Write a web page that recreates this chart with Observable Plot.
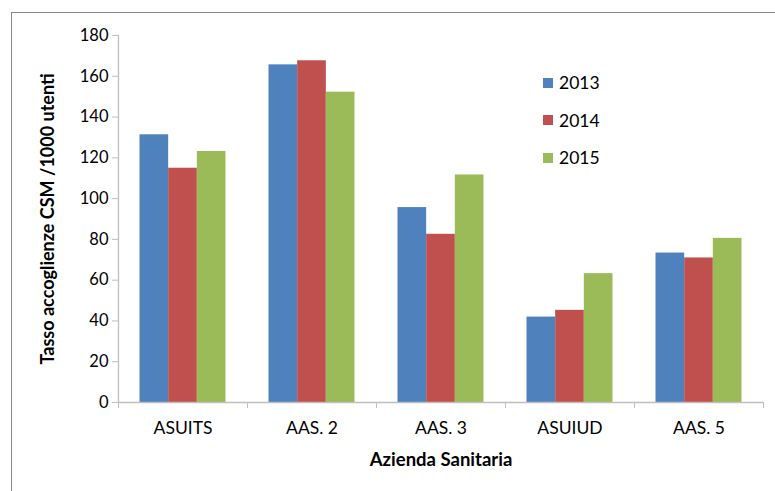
<!DOCTYPE html>
<html><head><meta charset="utf-8">
<script src="https://cdn.jsdelivr.net/npm/d3@7"></script>
<script src="https://cdn.jsdelivr.net/npm/@observablehq/plot@0.6"></script>
<style>
body{margin:0;background:#fff;}
#wrap{position:relative;width:775px;height:491px;overflow:hidden;font-family:Lato,"Open Sans",sans-serif;}
#wrap svg{position:absolute;left:0;top:0;}
#border{position:absolute;left:11px;top:12px;width:900px;height:700px;border-left:1.7px solid #888;border-top:1.7px solid #888;pointer-events:none;}
#legend{position:absolute;left:543px;top:64px;}
.item{display:flex;align-items:center;height:37.5px;font-size:17.5px;color:#000;}
.sw{width:10px;height:10px;margin-right:6px;}
</style></head><body>
<div id="wrap"><div id="border"></div><div id="legend"></div></div>
<script>
const categories = ["ASUITS", "AAS. 2", "AAS. 3", "ASUIUD", "AAS. 5"];
const years = ["2013", "2014", "2015"];
const values2013 = [131.3, 165.6, 95.6, 41.9, 73.3];
const values2014 = [114.9, 167.6, 82.5, 45.2, 70.9];
const values2015 = [123.1, 152.2, 111.6, 63.2, 80.5];
const colors = ["#4F81BD", "#C0504D", "#9BBB59"];
const yTicks = [0, 20, 40, 60, 80, 100, 120, 140, 160, 180];
const yLabel = "Tasso accoglienze CSM /1000 utenti";
const xLabel = "Azienda Sanitaria";

const series = [values2013, values2014, values2015];
const data = [];
categories.forEach((c, ci) => {
  years.forEach((y, yi) => {
    data.push({category: c, ci, year: y, yi, value: series[yi][ci]});
  });
});
// each category occupies one unit on x; 3 bars fill the middle 2/3 of it
const groupPad = 1 / 6, barW = (1 - 2 * groupPad) / years.length;

const chart = Plot.plot({
  width: 775,
  height: 491,
  marginLeft: 118,
  marginRight: 12,
  marginTop: 35,
  marginBottom: 89,
  style: {fontFamily: "Lato, 'Open Sans', sans-serif", background: "transparent", overflow: "visible"},
  x: {type: "linear", domain: [0, categories.length], axis: null},
  y: {domain: [0, 180], axis: null},
  color: {domain: years, range: colors},
  marks: [
    Plot.rectY(data, {
      x1: d => d.ci + groupPad + d.yi * barW,
      x2: d => d.ci + groupPad + (d.yi + 1) * barW,
      y: "value",
      fill: "year"
    }),
    Plot.ruleX([0], {stroke: "#bfbfbf", strokeWidth: 1.3}),
    Plot.ruleY([0], {stroke: "#bfbfbf", strokeWidth: 1.3}),
    Plot.axisY({ticks: yTicks, tickSize: 6, tickPadding: 4, stroke: "#bfbfbf", fill: "#000", fontSize: 16.5, label: null}),
    Plot.axisX({ticks: d3.range(0, categories.length + 1), tickSize: 6, stroke: "#bfbfbf", tickFormat: () => "", label: null}),
    Plot.axisX({ticks: categories.map((c, i) => i + 0.5), tickSize: 0, tickPadding: 19, fill: "#000",
      tickFormat: v => categories[Math.floor(v)], fontSize: 17.5, label: null}),
    Plot.text([xLabel], {frameAnchor: "bottom", dy: 63, fontWeight: "bold", fontSize: 18.5, fill: "#000", textAnchor: "middle"}),
    Plot.text([yLabel], {frameAnchor: "left", rotate: -90, dx: -70, fontWeight: "bold", fontSize: 18, fill: "#000", textAnchor: "middle"})
  ]
});
const wrap = document.getElementById("wrap");
wrap.insertBefore(chart, wrap.firstChild);

const legend = document.getElementById("legend");
years.forEach((y, i) => {
  const item = document.createElement("div");
  item.className = "item";
  const sw = document.createElement("span");
  sw.className = "sw";
  sw.style.background = colors[i];
  const t = document.createElement("span");
  t.textContent = y;
  item.appendChild(sw);
  item.appendChild(t);
  legend.appendChild(item);
});
</script>
</body></html>
